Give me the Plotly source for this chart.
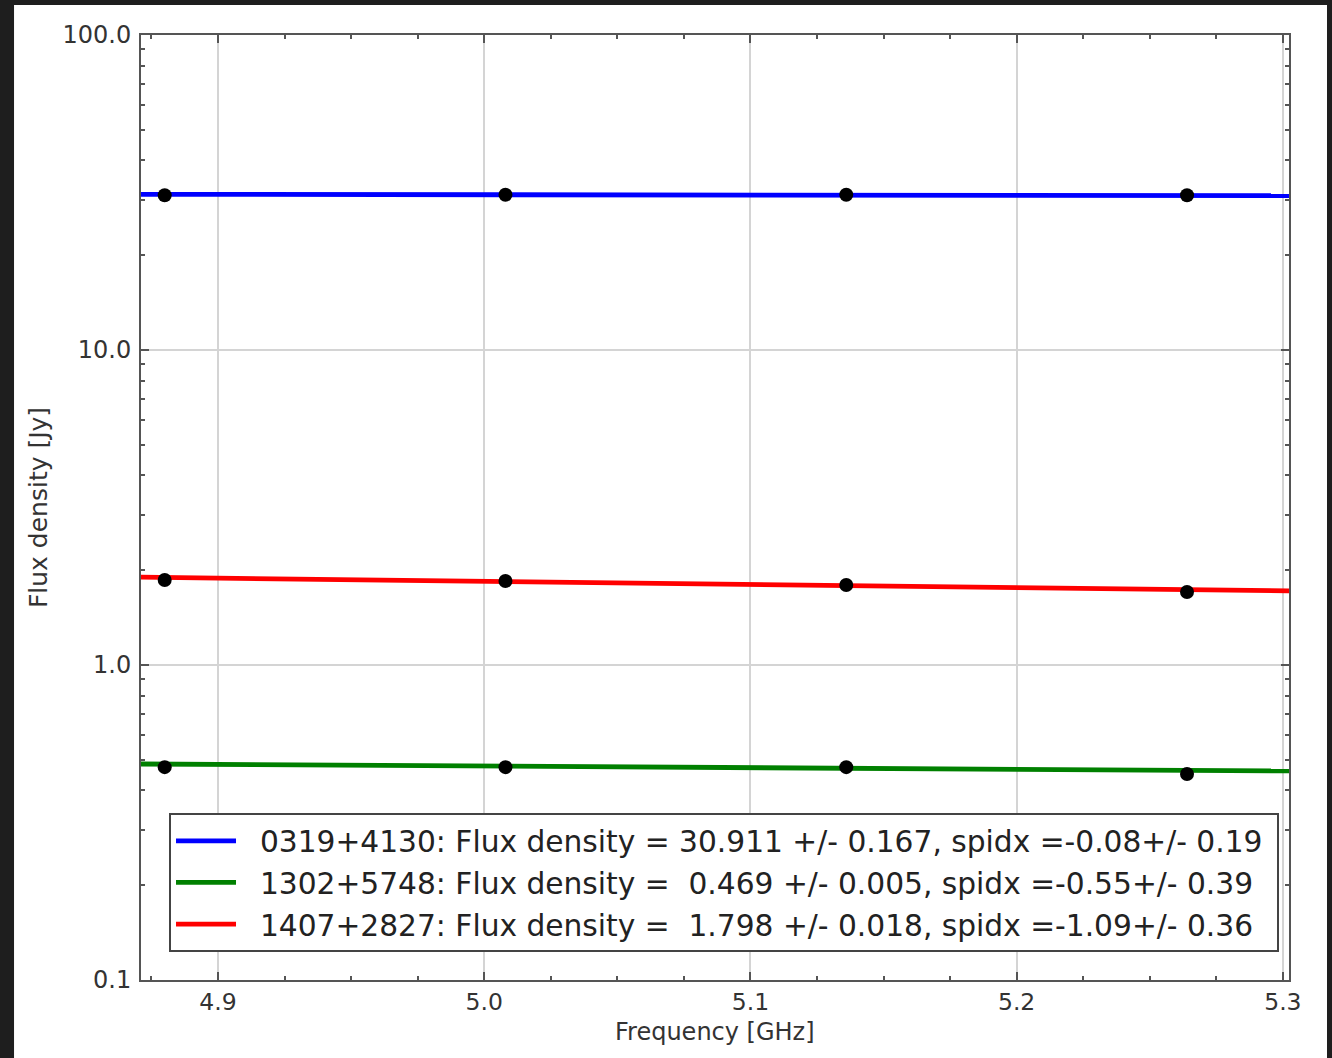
import plotly.graph_objects as go

# Data
freq_ghz = [4.880, 5.008, 5.136, 5.264]
flux_0319 = [31.0, 31.1, 31.1, 31.0]
flux_1302 = [0.474, 0.474, 0.474, 0.451]
flux_1407 = [1.862, 1.848, 1.795, 1.705]

fit_x = [4.8711, 5.3023]
fit_0319 = [31.2, 30.9]
fit_1302 = [0.485, 0.461]
fit_1407 = [1.90, 1.72]

labels = [
    "0319+4130: Flux density = 30.911 +/- 0.167, spidx =-0.08+/- 0.19",
    "1302+5748: Flux density =  0.469 +/- 0.005, spidx =-0.55+/- 0.39",
    "1407+2827: Flux density =  1.798 +/- 0.018, spidx =-1.09+/- 0.36",
]
colors = ["#0000ff", "#008000", "#ff0000"]

y_tickvals = [0.1, 1, 10, 100]
y_ticktext = ["0.1", "1.0", "10.0", "100.0"]
x_tickvals = [4.9, 5.0, 5.1, 5.2, 5.3]
x_ticktext = ["4.9", "5.0", "5.1", "5.2", "5.3"]
y_minor = [m * 10 ** e for e in (-1, 0, 1) for m in range(2, 10)]

fig = go.Figure()
for fit, lab, col in zip([fit_0319, fit_1302, fit_1407], labels, colors):
    fig.add_trace(go.Scatter(x=fit_x, y=fit, mode="lines", name="  " + lab + " ",
                             line=dict(color=col, width=4.8)))
for pts in [flux_0319, flux_1302, flux_1407]:
    fig.add_trace(go.Scatter(x=freq_ghz, y=pts, mode="markers", showlegend=False,
                             marker=dict(color="black", size=14)))

font = "DejaVu Sans"
fig.update_layout(
    width=1332, height=1058,
    margin=dict(l=141, r=43, t=35, b=78),
    paper_bgcolor="#1e1e1e",
    plot_bgcolor="white",
    font=dict(family=font, color="#333333", size=24),
    showlegend=True,
    legend=dict(x=0.0244, y=0.0296, xanchor="left", yanchor="bottom",
                bgcolor="white", bordercolor="#444444", borderwidth=2,
                font=dict(size=29.7, color="#222222", family=font),
                itemwidth=60),
    shapes=[dict(type="rect", xref="paper", yref="paper",
                 x0=-0.1106, x1=1.0331, y0=-0.12, y1=1.0317,
                 fillcolor="white", line=dict(width=0), layer="below")],
    annotations=[dict(text="Frequency [GHz]", xref="paper", yref="paper",
                      x=0.5, y=-0.0381, xanchor="center", yanchor="top",
                      showarrow=False, font=dict(size=24, color="#333333"))],
)
fig.update_xaxes(
    range=fit_x, tickvals=x_tickvals, ticktext=x_ticktext,
    showgrid=True, gridcolor="#d4d4d4", gridwidth=1.5,
    showline=True, linecolor="#555555", linewidth=2, mirror="allticks",
    ticks="inside", ticklen=8, tickcolor="#555555", tickwidth=1.5,
    minor=dict(dtick=0.025, tick0=4.9, ticks="inside", ticklen=4,
               tickcolor="#555555", showgrid=False),
    zeroline=False,
    tickfont=dict(size=23.5),
)
fig.update_yaxes(
    type="log", range=[-1, 2], tickvals=y_tickvals, ticktext=y_ticktext,
    showgrid=True, gridcolor="#d4d4d4", gridwidth=1.5,
    showline=True, linecolor="#555555", linewidth=2, mirror="allticks",
    ticks="inside", ticklen=8, tickcolor="#555555", tickwidth=1.5,
    minor=dict(tickvals=y_minor, ticks="inside", ticklen=4,
               tickcolor="#555555", showgrid=False),
    zeroline=False, ticklabelstandoff=3,
    title=dict(text="Flux density [Jy]", font=dict(size=25, color="#333333"), standoff=8),
    tickfont=dict(size=24),
)

fig.write_html("out.html", config={"displayModeBar": False},
               post_script="document.body.style.margin='0px';document.body.style.background='#1e1e1e';")
